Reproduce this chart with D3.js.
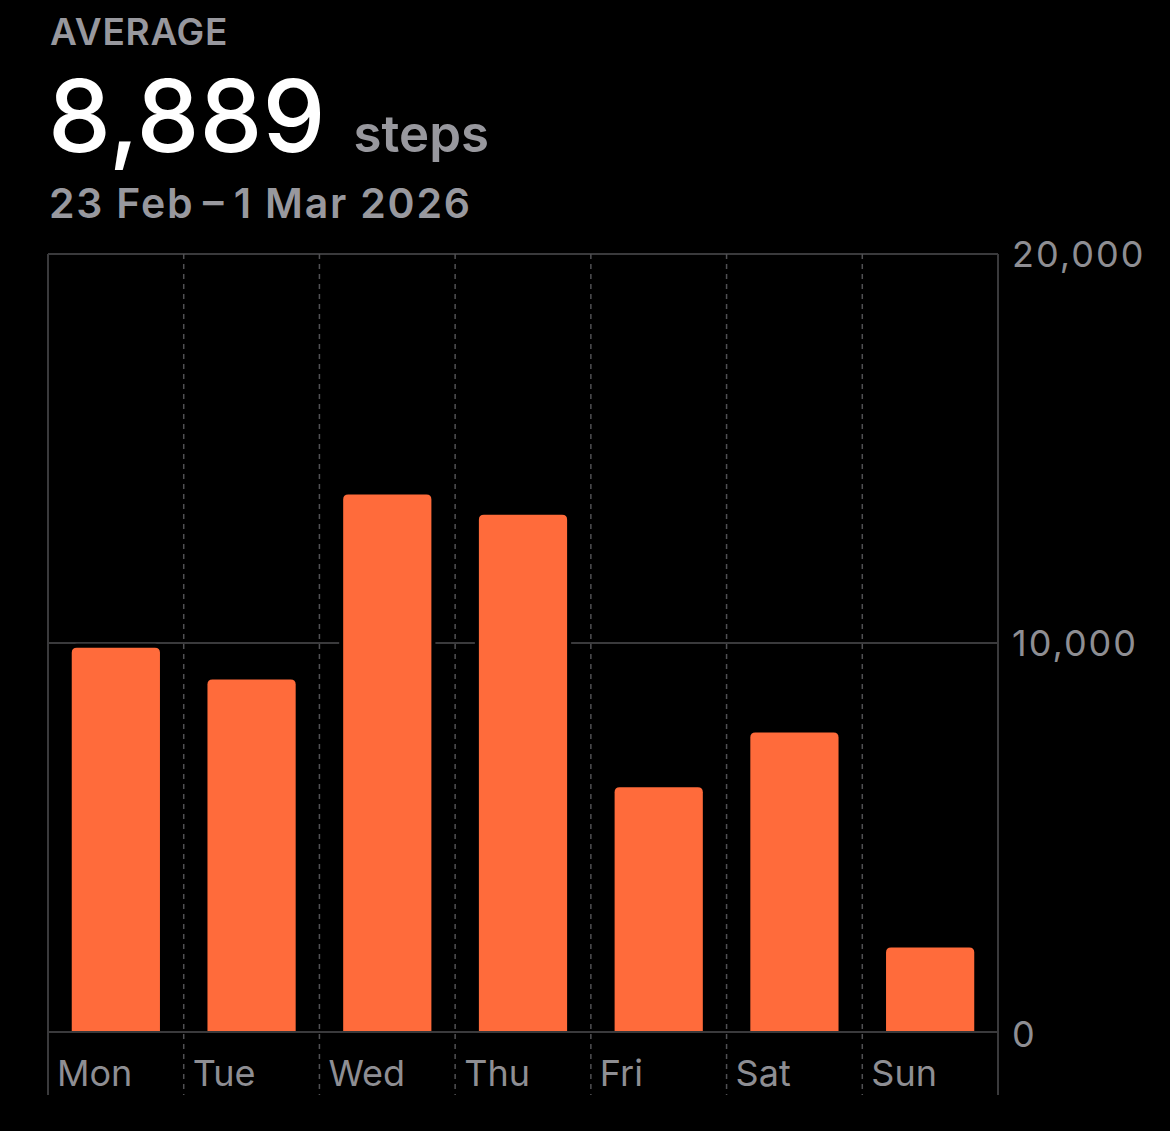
<!DOCTYPE html>
<html>
<head>
<meta charset="utf-8">
<script src="https://cdn.jsdelivr.net/npm/d3@7"></script>
<style>
  html, body { margin: 0; padding: 0; background: #000; }
  svg { display: block; font-family: Inter, "Noto Sans", sans-serif; }
</style>
</head>
<body>
<div id="wrapper"></div>
<script>
  // data
  const days = ["Mon", "Tue", "Wed", "Thu", "Fri", "Sat", "Sun"]
  const steps = [9880, 9060, 13820, 13300, 6290, 7700, 2173]
  const yTicks = [0, 10000, 20000]
  const averageLabel = "8,889"
  const dateRange = "23 Feb\u2009\u2013\u20091 Mar 2026"

  const width = 1170
  const height = 1131
  const dimensions = {
    width, height,
    margin: { top: 254, right: 172, bottom: 99, left: 48 },
  }
  dimensions.boundedWidth = width - dimensions.margin.left - dimensions.margin.right
  dimensions.boundedHeight = height - dimensions.margin.top - dimensions.margin.bottom

  const svg = d3.select("#wrapper").append("svg")
      .attr("width", width)
      .attr("height", height)

  // header
  svg.append("text")
      .attr("x", 50).attr("y", 45)
      .attr("fill", "#98989e")
      .attr("font-size", 37).attr("font-weight", 600)
      .attr("letter-spacing", 0.7)
      .text("AVERAGE")

  const big = svg.append("text")
      .attr("x", 48).attr("y", 152)
  big.append("tspan")
      .attr("fill", "#fff")
      .attr("font-size", 100).attr("font-weight", 500)
      .text(averageLabel)
  big.append("tspan")
      .attr("dx", 28)
      .attr("fill", "#98989e")
      .attr("font-size", 51).attr("font-weight", 600)
      .text("steps")

  svg.append("text")
      .attr("x", 49).attr("y", 218)
      .attr("fill", "#98989e")
      .attr("font-size", 41).attr("font-weight", 600)
      .attr("textLength", 421).attr("lengthAdjust", "spacing")
      .text(dateRange)

  const bounds = svg.append("g")
      .attr("transform", `translate(${dimensions.margin.left},${dimensions.margin.top})`)

  // scales
  const xScale = d3.scaleBand()
      .domain(days)
      .range([0, dimensions.boundedWidth])
      .paddingInner(0.35)
      .paddingOuter(0.175)

  const colScale = d3.scaleBand()
      .domain(days)
      .range([0, dimensions.boundedWidth])

  const yScale = d3.scaleLinear()
      .domain([0, 20000])
      .range([dimensions.boundedHeight, 0])

  const plotBottom = yScale(0)
  const lineBottom = plotBottom + 63

  // horizontal gridlines
  bounds.selectAll(".grid")
    .data(yTicks)
    .join("line")
      .attr("x1", 0).attr("x2", dimensions.boundedWidth)
      .attr("y1", d => yScale(d)).attr("y2", d => yScale(d))
      .attr("stroke", "#3a3a3c").attr("stroke-width", 2)

  // dashed day separators
  bounds.selectAll(".sep")
    .data(days.slice(1))
    .join("line")
      .attr("x1", d => colScale(d)).attr("x2", d => colScale(d))
      .attr("y1", 0).attr("y2", lineBottom)
      .attr("stroke", "#505053").attr("stroke-width", 1.5)
      .attr("stroke-dasharray", "5,5")

  // solid edges
  bounds.selectAll(".edge")
    .data([0, dimensions.boundedWidth])
    .join("line")
      .attr("x1", d => d).attr("x2", d => d)
      .attr("y1", 0).attr("y2", lineBottom)
      .attr("stroke", "#3a3a3c").attr("stroke-width", 2)

  // bars, rounded at top
  const r = 5
  const barPath = d => {
    const x0 = xScale(d.day), x1 = x0 + xScale.bandwidth()
    const y0 = yScale(d.value), y1 = plotBottom
    return `M${x0},${y1}V${y0 + r}Q${x0},${y0} ${x0 + r},${y0}H${x1 - r}Q${x1},${y0} ${x1},${y0 + r}V${y1}Z`
  }
  bounds.selectAll(".bar")
    .data(days.map((day, i) => ({ day, value: steps[i] })))
    .join("path")
      .attr("d", barPath)
      .attr("fill", "#ff6b3b")
      .attr("stroke", "#000").attr("stroke-width", 8)
      .attr("paint-order", "stroke")

  // baseline on top
  bounds.append("line")
      .attr("x1", 0).attr("x2", dimensions.boundedWidth)
      .attr("y1", plotBottom).attr("y2", plotBottom)
      .attr("stroke", "#3a3a3c").attr("stroke-width", 2)

  // day labels
  bounds.selectAll(".day")
    .data(days)
    .join("text")
      .attr("x", d => colScale(d) + 9)
      .attr("y", plotBottom + 54)
      .attr("fill", "#8e8e93")
      .attr("font-size", 36)
      .text(d => d)

  // y axis labels
  bounds.selectAll(".ytick")
    .data(yTicks)
    .join("text")
      .attr("x", dimensions.boundedWidth + 14)
      .attr("y", d => yScale(d) + (d === 0 ? 2 : 0))
      .attr("dy", "0.36em")
      .attr("fill", "#8e8e93")
      .attr("font-size", 36)
      .attr("letter-spacing", 2)
      .text(d => d3.format(",")(d))
</script>
</body>
</html>
